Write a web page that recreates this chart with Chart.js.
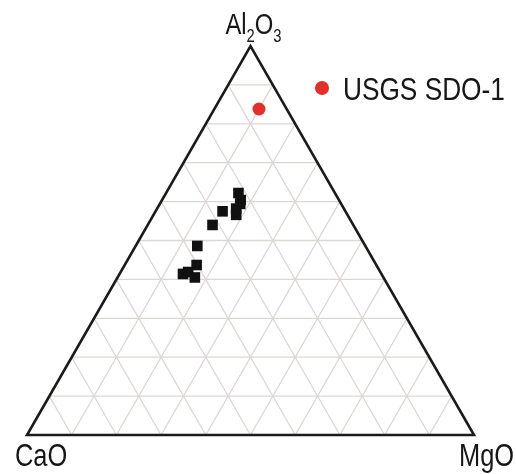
<!DOCTYPE html>
<html>
<head>
<meta charset="utf-8">
<script src="https://cdn.jsdelivr.net/npm/chart.js@4/dist/chart.umd.min.js"></script>
<style>
  html, body { margin: 0; padding: 0; background: #ffffff; }
  #wrap { width: 516px; height: 474px; }
</style>
</head>
<body>
<div id="wrap"><canvas id="tern" width="516" height="474"></canvas></div>
<script>
// Ternary apices: top, bottom-left, bottom-right
const apexLabels = ['Al2O3', 'CaO', 'MgO'];

// Sample compositions (fractions): Al2O3, CaO, MgO
const sampleAl2O3 = [0.622, 0.604, 0.594, 0.582, 0.566, 0.575, 0.540, 0.486, 0.437, 0.414, 0.419, 0.405];
const sampleCaO   = [0.216, 0.220, 0.226, 0.241, 0.249, 0.275, 0.315, 0.376, 0.402, 0.444, 0.430, 0.422];
const sampleMgO   = [0.162, 0.176, 0.180, 0.177, 0.185, 0.150, 0.145, 0.138, 0.161, 0.142, 0.151, 0.173];

// Reference material
const refLabel  = 'USGS SDO-1';
const refAl2O3  = [0.838];
const refCaO    = [0.062];
const refMgO    = [0.100];

// Grid divisions along each side
const gridDivisions = 10;

const H = Math.sqrt(3) / 2;

// Ternary -> cartesian (CaO at origin, MgO at x=1, Al2O3 at the apex)
function toXY(a, c, m) {
  const s = a + c + m;
  a /= s; m /= s;
  return { x: m + a / 2, y: a * H };
}

const samplePts = sampleAl2O3.map((a, i) => toXY(a, sampleCaO[i], sampleMgO[i]));
const refPts = refAl2O3.map((a, i) => toXY(a, refCaO[i], refMgO[i]));

// Pick a narrow sans face if one is installed, otherwise compress the regular one
const FONT = (function () {
  const c = document.createElement('canvas').getContext('2d');
  c.font = '30px "Liberation Sans"';
  const w1 = c.measureText('USGS SDO-1').width;
  c.font = '30px "Liberation Sans Narrow", "Liberation Sans"';
  const w2 = c.measureText('USGS SDO-1').width;
  if (w2 < w1 * 0.95) return { family: '"Liberation Sans Narrow"', sx: 1 };
  return { family: '"Liberation Sans", Arial, sans-serif', sx: 0.82 };
})();

function drawText(ctx, str, x, y, size, align) {
  ctx.save();
  ctx.font = size + 'px ' + FONT.family;
  ctx.textBaseline = 'alphabetic';
  ctx.textAlign = 'left';
  const w = ctx.measureText(str).width * FONT.sx;
  let x0 = x;
  if (align === 'center') x0 = x - w / 2;
  else if (align === 'right') x0 = x - w;
  ctx.translate(x0, y);
  ctx.scale(FONT.sx, 1);
  ctx.fillText(str, 0, 0);
  ctx.restore();
  return w;
}

function measure(ctx, str, size) {
  ctx.save();
  ctx.font = size + 'px ' + FONT.family;
  const w = ctx.measureText(str).width * FONT.sx;
  ctx.restore();
  return w;
}

// Triangular grid and frame, drawn through the chart's scales
const ternaryFrame = {
  id: 'ternaryFrame',
  beforeDatasetsDraw(chart) {
    const { ctx, scales: { x, y } } = chart;
    const P = (p) => [x.getPixelForValue(p.x), y.getPixelForValue(p.y)];
    const line = (p1, p2) => {
      const a = P(p1), b = P(p2);
      ctx.moveTo(a[0], a[1]);
      ctx.lineTo(b[0], b[1]);
    };
    ctx.save();
    ctx.strokeStyle = '#ddd7d4';
    ctx.lineWidth = 1.3;
    ctx.beginPath();
    for (let k = 1; k < gridDivisions; k++) {
      const f = k / gridDivisions;
      // constant Al2O3
      line(toXY(f, 1 - f, 0), toXY(f, 0, 1 - f));
      // constant MgO
      line(toXY(0, 1 - f, f), toXY(1 - f, 0, f));
      // constant CaO
      line(toXY(0, f, 1 - f), toXY(1 - f, f, 0));
    }
    ctx.stroke();

    ctx.strokeStyle = '#1b1b1b';
    ctx.lineWidth = 2.6;
    ctx.lineJoin = 'miter';
    ctx.beginPath();
    const t = P(toXY(1, 0, 0)), l = P(toXY(0, 1, 0)), r = P(toXY(0, 0, 1));
    ctx.moveTo(l[0], l[1]);
    ctx.lineTo(r[0], r[1]);
    ctx.lineTo(t[0], t[1]);
    ctx.closePath();
    ctx.stroke();
    ctx.restore();
  },
  afterDatasetsDraw(chart) {
    const { ctx, scales: { x, y } } = chart;
    const P = (p) => [x.getPixelForValue(p.x), y.getPixelForValue(p.y)];
    const t = P(toXY(1, 0, 0)), l = P(toXY(0, 1, 0)), r = P(toXY(0, 0, 1));
    ctx.save();
    ctx.fillStyle = '#161616';

    // Al2O3 with subscripts
    const big = 29, small = 18;
    const parts = [['Al', big, 0], ['2', small, 8], ['O', big, 0], ['3', small, 8]];
    let total = 0;
    parts.forEach(p => { total += measure(ctx, p[0], p[1]); });
    let cx = t[0] + 3 - total / 2;
    const base = t[1] - 12;
    parts.forEach(p => { cx += drawText(ctx, p[0], cx, base + p[2], p[1], 'left'); });

    // CaO and MgO
    drawText(ctx, apexLabels[1], l[0] - 12, l[1] + 31, 31, 'left');
    drawText(ctx, apexLabels[2], r[0] - 15, r[1] + 31, 31, 'left');

    // Legend entry for the reference material
    const ds = chart.data.datasets[1];
    ctx.fillStyle = ds.backgroundColor;
    ctx.beginPath();
    ctx.arc(322, 88, 7, 0, Math.PI * 2);
    ctx.fill();
    ctx.fillStyle = '#161616';
    drawText(ctx, ds.label, 343, 100, 32, 'left');
    ctx.restore();
  }
};

new Chart(document.getElementById('tern'), {
  type: 'scatter',
  data: {
    datasets: [
      {
        label: 'Samples',
        data: samplePts,
        pointStyle: 'rect',
        pointRadius: 7.5,
        pointHoverRadius: 7.5,
        backgroundColor: '#111111',
        borderColor: '#111111',
        borderWidth: 0
      },
      {
        label: refLabel,
        data: refPts,
        pointStyle: 'circle',
        pointRadius: 6.5,
        pointHoverRadius: 6.5,
        backgroundColor: '#e3302a',
        borderColor: '#e3302a',
        borderWidth: 0
      }
    ]
  },
  options: {
    responsive: false,
    devicePixelRatio: 1,
    animation: false,
    layout: { padding: { left: 27, right: 42, top: 46, bottom: 39 } },
    scales: {
      x: { type: 'linear', min: 0, max: 1, display: false },
      y: { type: 'linear', min: 0, max: H, display: false }
    },
    plugins: {
      legend: { display: false },
      tooltip: { enabled: false }
    }
  },
  plugins: [ternaryFrame]
});
</script>
</body>
</html>
